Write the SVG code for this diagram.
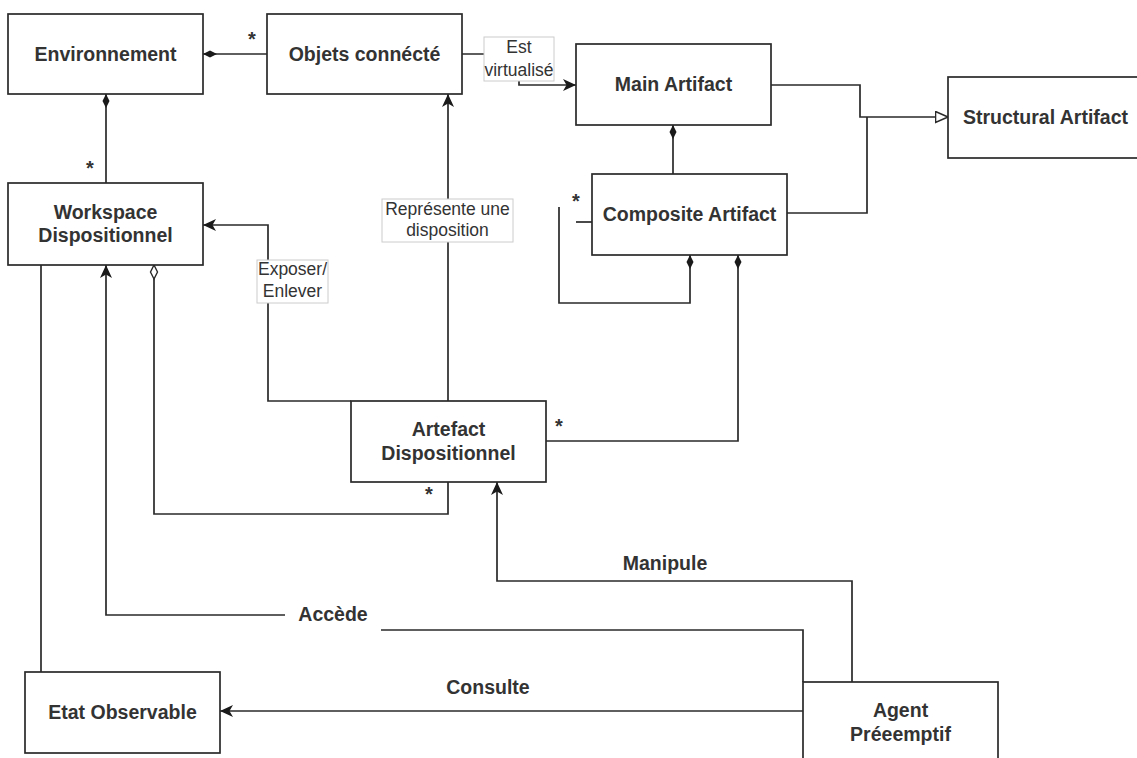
<svg xmlns="http://www.w3.org/2000/svg" width="1137" height="758" viewBox="0 0 1137 758">
<style>
.box{fill:#fff;stroke:#2a2a2a;stroke-width:1.7}
.t{font-family:"Liberation Sans",Arial,sans-serif;font-size:19.5px;font-weight:bold;fill:#333;text-anchor:middle}
.e{fill:none;stroke:#2a2a2a;stroke-width:1.7}
.lb{fill:#fff;stroke:#cccccc;stroke-width:1}
.lt{font-family:"Liberation Sans",Arial,sans-serif;font-size:17.5px;fill:#333;text-anchor:middle}
.st{font-family:"Liberation Sans",Arial,sans-serif;font-size:20px;font-weight:bold;fill:#333;text-anchor:middle}
</style>
<defs>
<marker id="arr" markerUnits="userSpaceOnUse" markerWidth="14" markerHeight="13" refX="13" refY="6" orient="auto">
<path d="M0,0 L13,6 L0,12 L3.5,6 z" fill="#1a1a1a"/>
</marker>
<marker id="tri" markerUnits="userSpaceOnUse" markerWidth="15" markerHeight="14" refX="13.5" refY="6.5" orient="auto">
<path d="M1,1 L13.5,6.5 L1,12 z" fill="#fff" stroke="#2a2a2a" stroke-width="1.6"/>
</marker>
<marker id="dia" markerUnits="userSpaceOnUse" markerWidth="16" markerHeight="9" refX="0" refY="4" orient="auto">
<path d="M0,4 L7,0.5 L14,4 L7,7.5 z" fill="#1a1a1a"/>
</marker>
<marker id="odia" markerUnits="userSpaceOnUse" markerWidth="16" markerHeight="10" refX="0.5" refY="4.5" orient="auto">
<path d="M0.5,4.5 L7.5,1 L14.5,4.5 L7.5,8 z" fill="#fff" stroke="#2a2a2a" stroke-width="1.4"/>
</marker>
</defs>
<rect width="1137" height="758" fill="#fff"/>
<g id="connectors">
<path class="e" d="M203,54 H267" marker-start="url(#dia)"/>
<path class="e" d="M106,94 V183" marker-start="url(#dia)"/>
<path class="e" d="M462,54 H519 V85 H576" marker-end="url(#arr)"/>
<path class="e" d="M673,125 V174" marker-start="url(#dia)"/>
<path class="e" d="M771,85 H860 V117 H948" marker-end="url(#tri)"/>
<path class="e" d="M787,213 H867 V117"/>
<path class="e" d="M690,255 V303 H559 V207" marker-start="url(#dia)"/>
<path class="e" d="M576,222 H592"/>
<path class="e" d="M738,255 V441 H546" marker-start="url(#dia)"/>
<path class="e" d="M448,401 V94" marker-end="url(#arr)"/>
<path class="e" d="M351,401 H268 V225 H203" marker-end="url(#arr)"/>
<path class="e" d="M154,265 V514 H448 V482" marker-start="url(#odia)"/>
<path class="e" d="M852,682 V581 H497 V482" marker-end="url(#arr)"/>
<path class="e" d="M803,682 V630 H381"/>
<path class="e" d="M285,615 H106 V265" marker-end="url(#arr)"/>
<path class="e" d="M803,711 H220" marker-end="url(#arr)"/>
<path class="e" d="M41,672 V265"/>
<rect class="lb" x="484" y="37" width="70" height="44"/>
<text class="lt" x="519" y="53">Est</text>
<text class="lt" x="519" y="76">virtualisé</text>
<rect class="lb" x="382" y="199" width="131" height="43"/>
<text class="lt" x="447.5" y="215">Représente une</text>
<text class="lt" x="447.5" y="236">disposition</text>
<rect class="lb" x="257" y="260" width="71" height="43"/>
<text class="lt" x="292.5" y="275">Exposer/</text>
<text class="lt" x="292.5" y="297">Enlever</text>
<text class="t" x="333" y="621">Accède</text>
<text class="t" x="488" y="694">Consulte</text>
<text class="t" x="665" y="570">Manipule</text>
<text class="st" x="252" y="46">*</text>
<text class="st" x="90" y="175">*</text>
<text class="st" x="576" y="208">*</text>
<text class="st" x="559" y="433">*</text>
<text class="st" x="429" y="501">*</text>
</g>
<g id="environnement"><rect class="box" x="8" y="14" width="195" height="80"/><text class="t" x="105.5" y="61">Environnement</text></g>
<g id="objets"><rect class="box" x="267" y="14" width="195" height="80"/><text class="t" x="364.5" y="61">Objets connécté</text></g>
<g id="main"><rect class="box" x="576" y="44" width="195" height="81"/><text class="t" x="673.5" y="91">Main Artifact</text></g>
<g id="structural"><rect class="box" x="948" y="77" width="195" height="81"/><text class="t" x="1045.5" y="124">Structural Artifact</text></g>
<g id="composite"><rect class="box" x="592" y="174" width="195" height="81"/><text class="t" x="689.5" y="221">Composite Artifact</text></g>
<g id="workspace"><rect class="box" x="8" y="183" width="195" height="82"/><text class="t" x="105.5" y="219">Workspace</text><text class="t" x="105.5" y="242">Dispositionnel</text></g>
<g id="artefact"><rect class="box" x="351" y="401" width="195" height="81"/><text class="t" x="448.5" y="436">Artefact</text><text class="t" x="448.5" y="460">Dispositionnel</text></g>
<g id="etat"><rect class="box" x="25" y="672" width="195" height="81"/><text class="t" x="122.5" y="719">Etat Observable</text></g>
<g id="agent"><rect class="box" x="803" y="682" width="195" height="84"/><text class="t" x="900.5" y="717">Agent</text><text class="t" x="900.5" y="741">Préeemptif</text></g>
</svg>
